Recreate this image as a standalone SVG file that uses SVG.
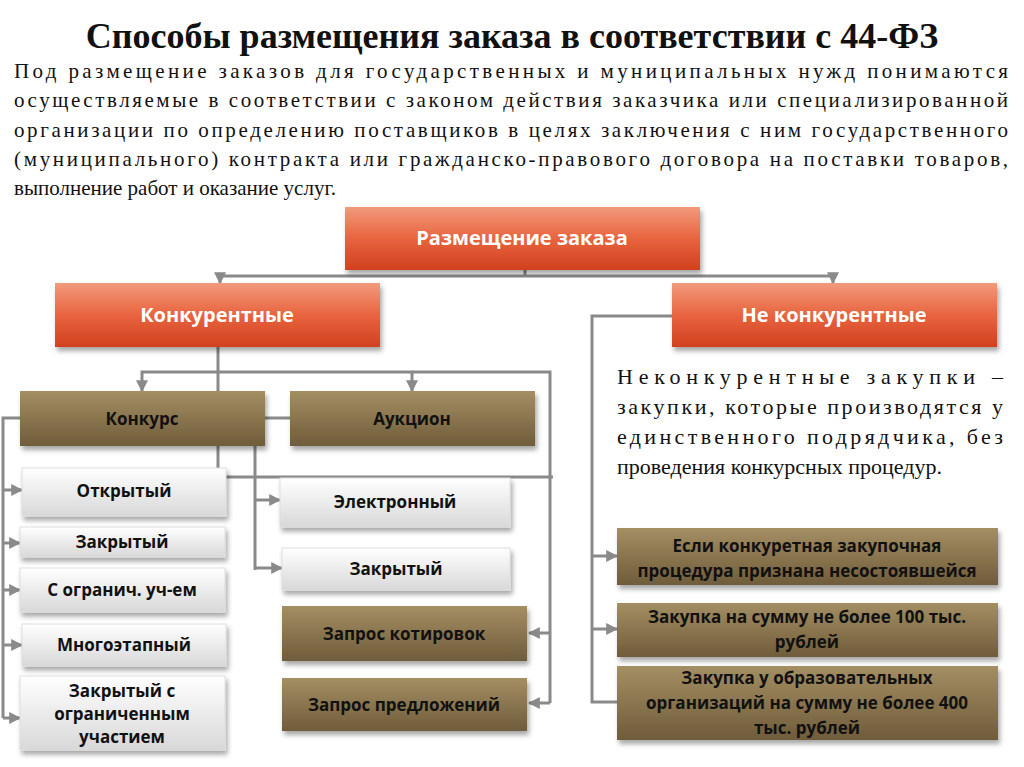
<svg xmlns="http://www.w3.org/2000/svg" width="1024" height="767" viewBox="0 0 1024 767">
<defs>
<linearGradient id="gO" x1="0" y1="0" x2="0" y2="1"><stop offset="0" stop-color="#f29a7c"/><stop offset="0.5" stop-color="#e8643f"/><stop offset="1" stop-color="#d2401f"/></linearGradient>
<linearGradient id="gB" x1="0" y1="0" x2="0" y2="1"><stop offset="0" stop-color="#a48e63"/><stop offset="1" stop-color="#6f5c3a"/></linearGradient>
<linearGradient id="gW" x1="0" y1="0" x2="0" y2="1"><stop offset="0" stop-color="#ffffff"/><stop offset="1" stop-color="#d8d8d8"/></linearGradient>
<filter id="sh" x="-10%" y="-20%" width="120%" height="150%"><feDropShadow dx="2" dy="4" stdDeviation="2.5" flood-color="#000" flood-opacity="0.35"/></filter>
<marker id="ar" viewBox="0 0 10 10" refX="9" refY="5" markerWidth="4" markerHeight="4" orient="auto"><path d="M0,0 L10,5 L0,10 z" fill="#8a8a8a"/></marker>
<style>
.t{font-family:"Liberation Serif",serif;fill:#111}
.l{font-family:"Open Sans","Liberation Sans",sans-serif;font-weight:700;font-size:17px;fill:#111;text-anchor:middle}
.lw{font-family:"Open Sans","Liberation Sans",sans-serif;font-weight:700;font-size:20px;fill:#fff;text-anchor:middle}
.c{fill:none;stroke:#8a8a8a;stroke-width:3}
.a{marker-end:url(#ar)}
</style>
</defs>
<rect width="1024" height="767" fill="#fff"/>
<text class="t" x="512" y="48" font-size="36" font-weight="700" text-anchor="middle">Способы размещения заказа в соответствии с 44-ФЗ</text>
<g class="t" font-size="21">
<text x="14" y="78" textLength="994" lengthAdjust="spacing">Под размещение заказов для государственных и муниципальных нужд понимаются</text>
<text x="14" y="107" textLength="994" lengthAdjust="spacing">осуществляемые в соответствии с законом действия заказчика или специализированной</text>
<text x="14" y="137" textLength="994" lengthAdjust="spacing">организации по определению поставщиков в целях заключения с ним государственного</text>
<text x="14" y="166" textLength="994" lengthAdjust="spacing">(муниципального) контракта или гражданско-правового договора на поставки товаров,</text>
<text x="14" y="195">выполнение работ и оказание услуг.</text>
</g>
<g class="t" font-size="22">
<text x="617" y="384" textLength="386" lengthAdjust="spacing">Неконкурентные       закупки       –</text>
<text x="617" y="414" textLength="386" lengthAdjust="spacing">закупки, которые производятся у</text>
<text x="617" y="444" textLength="386" lengthAdjust="spacing">единственного подрядчика, без</text>
<text x="617" y="474">проведения конкурсных процедур.</text>
</g>
<g id="connectors">
<path class="c" d="M525,270 V276"/>
<path class="c a" d="M525,276 H220 V283"/>
<path class="c a" d="M525,276 H833 V283"/>
<path class="c" d="M218,347 V477 H553"/>
<path class="c a" d="M218,372 H142 V391"/>
<path class="c a" d="M218,372 H412 V391"/>
<path class="c" d="M412,372 H550 V703"/>
<path class="c a" d="M550,633 H529"/>
<path class="c a" d="M550,703 H529"/>
<path class="c" d="M290,418 H255 V570"/>
<path class="c a" d="M255,500 H280"/>
<path class="c a" d="M255,568 H282"/>
<path class="c" d="M20,418 H3 V718"/>
<path class="c a" d="M3,490 H22"/>
<path class="c a" d="M3,543 H20"/>
<path class="c a" d="M3,590 H20"/>
<path class="c a" d="M3,645 H22"/>
<path class="c a" d="M3,718 H20"/>
<path class="c" d="M672,316 H592 V702 H617"/>
<path class="c a" d="M592,556 H617"/>
<path class="c a" d="M592,629 H617"/>
</g>
<g id="n-root"><rect x="345" y="207" width="355" height="63" fill="url(#gO)" filter="url(#sh)"/><text class="lw" x="522" y="245">Размещение заказа</text></g>
<g id="n-konk"><rect x="55" y="283" width="325" height="64" fill="url(#gO)" filter="url(#sh)"/><text class="lw" x="217" y="322">Конкурентные</text></g>
<g id="n-nekonk"><rect x="672" y="283" width="325" height="64" fill="url(#gO)" filter="url(#sh)"/><text class="lw" x="834" y="322">Не конкурентные</text></g>
<g id="n-konkurs"><rect x="20" y="391" width="245" height="55" fill="url(#gB)" filter="url(#sh)"/><text class="l" x="142" y="425" font-size="19">Конкурс</text></g>
<g id="n-auk"><rect x="290" y="391" width="245" height="55" fill="url(#gB)" filter="url(#sh)"/><text class="l" x="412" y="425" font-size="19">Аукцион</text></g>
<g id="n-open"><rect x="22" y="468" width="204" height="48" fill="url(#gW)" stroke="#ddd" filter="url(#sh)"/><text class="l" x="124" y="497">Открытый</text></g>
<g id="n-closed"><rect x="20" y="527" width="205" height="30" fill="url(#gW)" stroke="#ddd" filter="url(#sh)"/><text class="l" x="122" y="548">Закрытый</text></g>
<g id="n-ogr"><rect x="20" y="568" width="205" height="44" fill="url(#gW)" stroke="#ddd" filter="url(#sh)"/><text class="l" x="122" y="596">С огранич. уч-ем</text></g>
<g id="n-multi"><rect x="22" y="624" width="204" height="42" fill="url(#gW)" stroke="#ddd" filter="url(#sh)"/><text class="l" x="124" y="651">Многоэтапный</text></g>
<g id="n-closedogr"><rect x="20" y="676" width="205" height="74" fill="url(#gW)" stroke="#ddd" filter="url(#sh)"/><text class="l" x="122" y="697">Закрытый с</text><text class="l" x="122" y="720">ограниченным</text><text class="l" x="122" y="743">участием</text></g>
<g id="n-el"><rect x="280" y="478" width="230" height="49" fill="url(#gW)" stroke="#ddd" filter="url(#sh)"/><text class="l" x="395" y="508">Электронный</text></g>
<g id="n-aclosed"><rect x="282" y="548" width="228" height="42" fill="url(#gW)" stroke="#ddd" filter="url(#sh)"/><text class="l" x="396" y="575">Закрытый</text></g>
<g id="n-kot"><rect x="282" y="606" width="245" height="55" fill="url(#gB)" filter="url(#sh)"/><text class="l" x="404" y="640" font-size="19">Запрос котировок</text></g>
<g id="n-pred"><rect x="282" y="678" width="245" height="53" fill="url(#gB)" filter="url(#sh)"/><text class="l" x="404" y="711" font-size="18">Запрос предложений</text></g>
<g id="n-r1"><rect x="617" y="528" width="381" height="57" fill="url(#gB)" filter="url(#sh)"/><text class="l" x="807" y="552">Если конкуретная закупочная</text><text class="l" x="807" y="577">процедура признана несостоявшейся</text></g>
<g id="n-r2"><rect x="617" y="603" width="381" height="54" fill="url(#gB)" filter="url(#sh)"/><text class="l" x="807" y="623">Закупка на сумму не более 100 тыс.</text><text class="l" x="807" y="648">рублей</text></g>
<g id="n-r3"><rect x="617" y="666" width="381" height="74" fill="url(#gB)" filter="url(#sh)"/><text class="l" x="807" y="684">Закупка у образовательных</text><text class="l" x="807" y="709">организаций на сумму не более 400</text><text class="l" x="807" y="734">тыс. рублей</text></g>
</svg>
